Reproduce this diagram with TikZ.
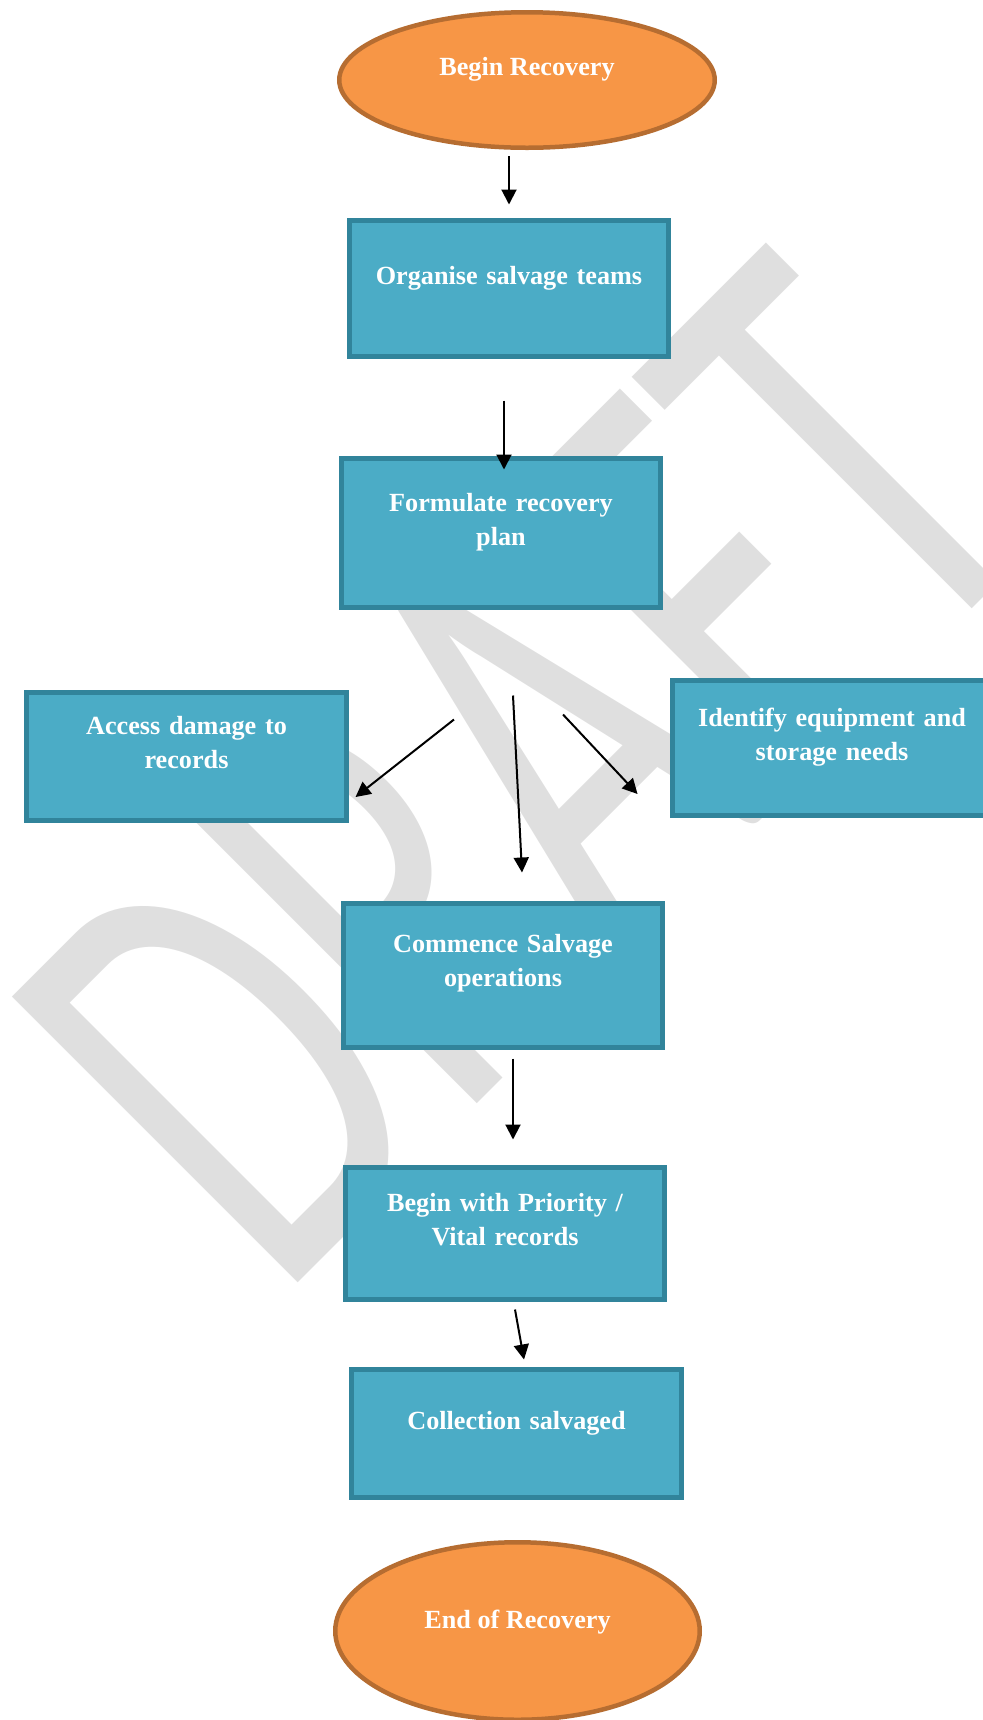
\documentclass[tikz,border=0pt]{standalone}
\usepackage{fontspec}
\setmainfont{Liberation Serif}
\newfontfamily\draftfont{Carlito}
\usetikzlibrary{arrows.meta, shapes.geometric}

\definecolor{boxfill}{HTML}{4BACC6}
\definecolor{boxline}{HTML}{31849B}
\definecolor{endfill}{HTML}{F79646}
\definecolor{endline}{HTML}{B66D31}
\definecolor{draftgray}{RGB}{223,223,223}

\begin{document}
\begin{tikzpicture}[
            x = 0.5pt, y = -0.5pt, % one unit per pixel, y downwards
            > = {Triangle[length=7.5pt, width=7.5pt]}, % arrow head style
            line width = 1pt % line style
        ]

        \tikzstyle{every node}=[
            font = \bfseries\fontsize{13.1}{17}\selectfont,
            text = white
        ]
        \tikzstyle{task}=[
            draw = boxline,
            line width = 2.5pt,
            fill = boxfill,
            text width = 150pt,
            align = center,
            minimum width = 159.75pt,
            inner ysep = 0pt
        ]
        \tikzstyle{terminal}=[
            ellipse,
            draw = endline,
            line width = 2.25pt,
            fill = endfill,
            inner sep = 0pt
        ]
        \tikzstyle{draftmark}=[
            font = \draftfont\fontsize{315}{315}\selectfont,
            text = draftgray,
            anchor = base,
            inner sep = 0pt,
            rotate = 45,
            xscale = 0.65
        ]

        \useasboundingbox (0,0) rectangle (983,1720);

        % watermark
        \node[draftmark] (draft) at (667,914) {DRAFT};

        \node[terminal, minimum width=187.75pt, minimum height=67.75pt,
              text height=8pt, text depth=13pt] (begin) at (527,80) {Begin Recovery};
        \node[task, text height=31.75pt, text depth=36.25pt] (org) at (509,288.5)
            {Organise salvage teams};
        \node[task, text height=26.25pt, text depth=48.25pt] (form) at (501,533)
            {Formulate recovery\\ plan};
        \node[task, text height=20.75pt, text depth=43.25pt] (acc) at (186.5,756.5)
            {Access damage to\\ records};
        \node[task, text height=22.75pt, text depth=44.75pt] (ident) at (832,748)
            {Identify equipment and\\ storage needs};
        \node[task, text height=24.25pt, text depth=47.75pt] (comm) at (503,975.5)
            {Commence Salvage\\ operations};
        \node[task, text height=21.75pt, text depth=44.25pt] (prio) at (505,1233.5)
            {Begin with Priority /\\ Vital records};
        \node[task, minimum width=165.25pt, text height=29.75pt, text depth=34.25pt]
            (coll) at (516.5,1433.5) {Collection salvaged};
        \node[terminal, minimum width=182.25pt, minimum height=88.75pt,
              text height=8pt, text depth=11pt] (end) at (517.5,1631) {End of Recovery};

        \draw[->] ([xshift=-9pt, yshift=-3.1pt]begin.south) -- ([yshift=6.75pt]org.north);
        \draw[->] ([xshift=-2.5pt, yshift=-20.75pt]org.south) -- ([xshift=1.5pt, yshift=-6.75pt]form.north);
        \draw[->] ([xshift=-23.5pt, yshift=-54.75pt]form.south) -- ([xshift=3.4pt, yshift=-20.25pt]acc.east);
        \draw[->] ([xshift=6pt, yshift=-42.75pt]form.south) -- ([xshift=9.5pt, yshift=14.25pt]comm.north);
        \draw[->] ([xshift=31pt, yshift=-52.25pt]form.south) -- ([xshift=-16.1pt, yshift=-23pt]ident.west);
        \draw[->] ([xshift=5pt, yshift=-4.25pt]comm.south) -- ([xshift=4pt, yshift=12.75pt]prio.north);
        \draw[->] ([xshift=5pt, yshift=-3.75pt]prio.south) -- ([xshift=3.75pt, yshift=3.75pt]coll.north);

  \end{tikzpicture}
\end{document}
